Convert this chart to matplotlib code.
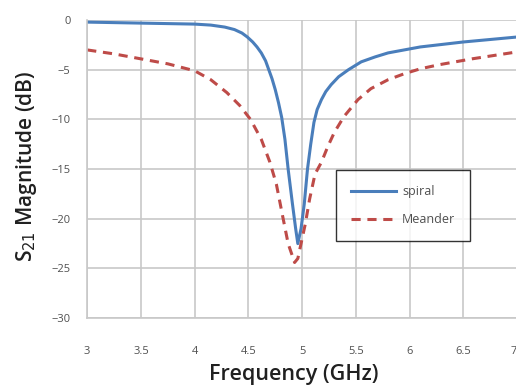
import matplotlib
matplotlib.use('Agg')
import matplotlib.pyplot as plt

# frequency (GHz) and S21 (dB)
spiral_f = [3.0, 3.25, 3.5, 3.75, 4.0, 4.15, 4.28, 4.37, 4.44, 4.49, 4.54, 4.58,
            4.62, 4.66, 4.69, 4.72, 4.75, 4.78, 4.81, 4.84, 4.87, 4.91, 4.94,
            4.96, 4.99, 5.02, 5.05, 5.08, 5.11, 5.14, 5.18, 5.22, 5.27, 5.34,
            5.43, 5.55, 5.68, 5.8, 5.95, 6.1, 6.3, 6.5, 6.75, 7.0]
spiral_db = [-0.2, -0.25, -0.3, -0.35, -0.4, -0.5, -0.7, -0.95, -1.3, -1.7, -2.2, -2.7,
             -3.3, -4.1, -5.0, -5.9, -7.0, -8.3, -9.8, -12.0, -15.0, -18.5, -21.0,
             -22.5, -21.0, -18.5, -15.0, -12.5, -10.3, -9.0, -8.0, -7.2, -6.5, -5.7,
             -5.0, -4.2, -3.7, -3.3, -3.0, -2.7, -2.45, -2.2, -1.95, -1.7]

meander_f = [3.0, 3.25, 3.5, 3.75, 4.0, 4.15, 4.3, 4.42, 4.52, 4.62, 4.70, 4.76,
             4.82, 4.87, 4.93, 4.96, 4.99, 5.03, 5.07, 5.12, 5.18, 5.24, 5.30,
             5.39, 5.52, 5.64, 5.8, 5.95, 6.1, 6.27, 6.58, 7.0]
meander_db = [-3.0, -3.4, -3.9, -4.4, -5.1, -6.0, -7.3, -8.6, -10.0, -12.0, -14.3, -16.5,
              -19.8, -22.5, -24.4, -24.0, -22.5, -20.5, -18.0, -15.5, -14.3, -12.7, -11.3,
              -9.7, -8.0, -6.9, -6.0, -5.4, -4.9, -4.5, -3.9, -3.2]

x_ticks = [3, 3.5, 4, 4.5, 5, 5.5, 6, 6.5, 7]
x_labels = ['3', '3.5', '4', '4.5', '5', '5.5', '6', '6.5', '7']
y_ticks = [0, -5, -10, -15, -20, -25, -30]

plt.rcParams['font.family'] = ['Open Sans', 'DejaVu Sans']

fig = plt.figure(figsize=(5.16, 3.87), dpi=100)
ax = fig.add_axes([0.169, 0.178, 0.833, 0.770])

ax.plot(spiral_f, spiral_db, color='#4a7ebb', lw=2.2, label='spiral')
ax.plot(meander_f, meander_db, color='#be4b48', lw=2.2, ls=(0, (3, 2.2)), label='Meander')

ax.set_xlim(3, 7.0)
ax.set_ylim(-30, 0)
ax.set_xticks(x_ticks)
ax.set_xticklabels(x_labels)
ax.set_yticks(y_ticks)
ax.grid(True, color='#c8c8c8', lw=1.2)
ax.set_axisbelow(True)
ax.tick_params(length=0, labelsize=8, labelcolor='#505050')
ax.tick_params(axis='x', pad=20)
ax.tick_params(axis='y', pad=12)
ax.get_xticklabels()[-1].set_horizontalalignment('right')
for s in ['top', 'right']:
    ax.spines[s].set_visible(False)
for s in ['left', 'bottom']:
    ax.spines[s].set_color('#c8c8c8')
    ax.spines[s].set_linewidth(1.2)

ax.set_xlabel('Frequency (GHz)', fontsize=15.5, fontweight='semibold', color='#202020')
ax.xaxis.set_label_coords(0.48, -0.155)
ax.set_ylabel('S$_{21}$ Magnitude (dB)', fontsize=15, fontweight='semibold', color='#202020')
ax.yaxis.set_label_coords(-0.112, 0.51)

leg = ax.legend(loc='upper left', bbox_to_anchor=(0.578, 0.497), fancybox=False,
                edgecolor='black', fontsize=9, handlelength=3.6, handletextpad=0.5,
                labelspacing=1.2, borderpad=1.2, borderaxespad=0)
leg.get_frame().set_linewidth(1.0)
for t in leg.get_texts():
    t.set_color('#505050')

fig.savefig('out.png', dpi=100)
